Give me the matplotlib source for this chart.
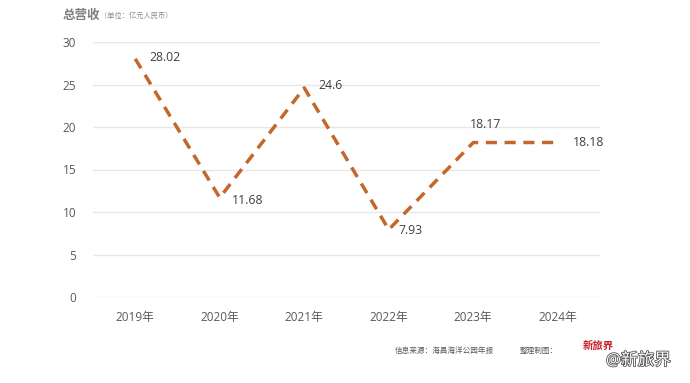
import matplotlib
matplotlib.use("Agg")
import matplotlib.pyplot as plt
import matplotlib.patheffects as pe

plt.rcParams['font.family'] = ['Open Sans', 'Noto Sans CJK SC', 'DejaVu Sans']

years = ["2019年", "2020年", "2021年", "2022年", "2023年", "2024年"]
revenue = [28.02, 11.68, 24.6, 7.93, 18.17, 18.18]
value_labels = ["28.02", "11.68", "24.6", "7.93", "18.17", "18.18"]
yticks = [0, 5, 10, 15, 20, 25, 30]

fig = plt.figure(figsize=(6.9, 3.83), dpi=100)
ax = fig.add_axes([93/690, 1-297/383, (600-93)/690, (297-42)/383])

x = list(range(len(years)))
ax.plot(x, revenue, color='#C4672B', lw=2.5, dashes=(3.2, 2.2), solid_capstyle='butt', zorder=3)

offsets = [(10, 1, 'left', 'center'), (9, -2, 'left', 'center'), (10, 2, 'left', 'center'),
           (7, -1, 'left', 'center'), (9, 8, 'center', 'bottom'), (11, 0, 'left', 'center')]
for xi, v, lab, (dx, dy, ha, va) in zip(x, revenue, value_labels, offsets):
    ax.annotate(lab, (xi, v), xytext=(dx, dy), textcoords='offset points', ha=ha, va=va,
                fontsize=8.8, color='#404040')

ax.set_xlim(-0.5, 5.5)
ax.set_ylim(0, 30)
ax.set_yticks(yticks)
ax.set_xticks(x)
ax.set_xticklabels(years)
ax.grid(axis='y', color='#E8E8E8', lw=1)
ax.set_axisbelow(True)
for s in ax.spines.values():
    s.set_visible(False)
ax.tick_params(length=0, labelsize=8.5, labelcolor='#595959')
ax.tick_params(axis='y', pad=12)
ax.tick_params(axis='x', pad=10)

fig.text(63/690, 1-15/383, "总营收", fontsize=9, color='#7F7F7F', fontweight='bold', va='center', ha='left')
fig.text(100/690, 1-16/383, "（单位：亿元人民币）", fontsize=5.2, color='#8C8C8C', va='center', ha='left')

fig.text(395/690, 1-351/383, "信息来源：海昌海洋公园年报", fontsize=5.5, color='#595959', va='center', ha='left')
fig.text(520/690, 1-351/383, "整理制图：", fontsize=5.5, color='#595959', va='center', ha='left')
fig.text(583/690, 1-346/383, "新旅界", fontsize=7.5, color='#C8202A', fontweight='bold', va='center', ha='left')
fig.text(606/690, 1-361/383, "@新旅界", fontsize=12, color='#FFFFFF', va='center', ha='left',
         path_effects=[pe.withStroke(linewidth=1.2, foreground='#555555')])

fig.savefig("out.png", dpi=100)
